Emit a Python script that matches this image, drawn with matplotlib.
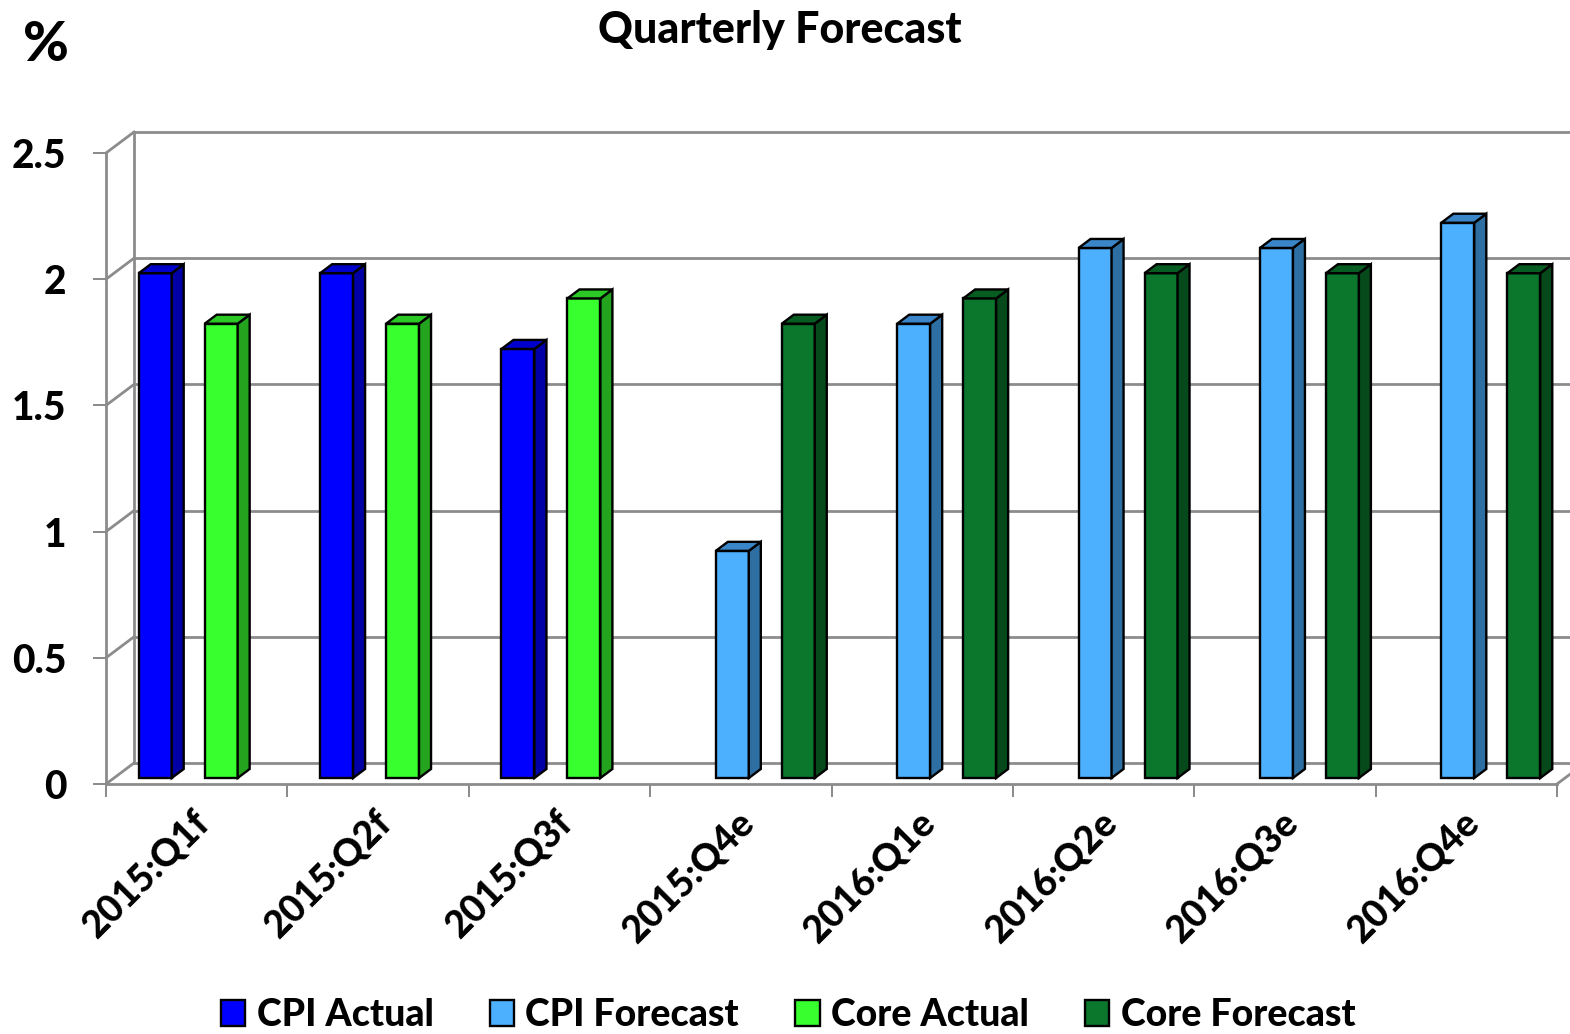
import numpy as np
import matplotlib
matplotlib.use("Agg")
import matplotlib.pyplot as plt
from matplotlib.patches import Polygon, Patch
from matplotlib.lines import Line2D
from matplotlib.transforms import ScaledTranslation, IdentityTransform

# ---------------- data ----------------
categories = ['2015:Q1f', '2015:Q2f', '2015:Q3f', '2015:Q4e',
              '2016:Q1e', '2016:Q2e', '2016:Q3e', '2016:Q4e']
nan = np.nan
cpi_actual    = [2.0, 2.0, 1.7, nan, nan, nan, nan, nan]
cpi_forecast  = [nan, nan, nan, 0.9, 1.8, 2.1, 2.1, 2.2]
core_actual   = [1.8, 1.8, 1.9, nan, nan, nan, nan, nan]
core_forecast = [nan, nan, nan, 1.8, 1.9, 2.0, 2.0, 2.0]
series_names = ['CPI Actual', 'CPI Forecast', 'Core Actual', 'Core Forecast']
yticks = [0, 0.5, 1, 1.5, 2, 2.5]
ytick_labels = ['0', '0.5', '1', '1.5', '2', '2.5']

# ---------------- style ----------------
front_colors = ['#0000FF', '#4DB0FF', '#38FF2E', '#0A772D']
side_colors  = ['#0000A6', '#2E6FA3', '#24A41E', '#064A1C']
top_colors   = ['#0000CC', '#3A86C8', '#2CC825', '#075C22']
GRID = '#8C8C8C'
FW = 'black'

plt.rcParams['font.family'] = ['Lato', 'DejaVu Sans']
plt.rcParams['font.weight'] = FW

DPI = 100
W_PX, H_PX = 1570, 1034
fig = plt.figure(figsize=(W_PX / DPI, H_PX / DPI), dpi=DPI)
fig.patch.set_facecolor('white')

x_left, x_right = 106, 1557
y_zero, y_top = 784, 153
ax = fig.add_axes([x_left / W_PX, (H_PX - y_zero) / H_PX,
                   (x_right - x_left) / W_PX, (y_zero - y_top) / H_PX])
ax.patch.set_visible(False)

def px(dx, dy):
    return ScaledTranslation(dx / DPI, dy / DPI, fig.dpi_scale_trans)

WALL_DX, WALL_DY = 28, 21
BAR_DX, BAR_DY = 8, 6
SIDE_DX, SIDE_DY = 12, 9

n_cat = len(categories)
n_ser = len(series_names)
all_series = [cpi_actual, cpi_forecast, core_actual, core_forecast]
w = 1.0 / (n_ser + 1.5)

bar_tr = ax.transData + px(BAR_DX, BAR_DY)
containers = []
for s, vals in enumerate(all_series):
    vals = np.asarray(vals, dtype=float)
    mask = ~np.isnan(vals)
    xs = np.arange(n_cat)[mask] + 0.75 * w + s * w + w / 2
    bc = ax.bar(xs, vals[mask], width=w, color=front_colors[s],
                edgecolor='black', linewidth=1.7, zorder=3)
    for r in bc:
        r.set_transform(bar_tr)
        r.set_clip_on(False)
    containers.append((s, bc))

ax.set_xlim(0, n_cat)
ax.set_ylim(0, 2.5)

# back wall gridlines
back_tr = ax.transData + px(WALL_DX, WALL_DY)
for y in yticks:
    ax.plot([0, n_cat], [y, y], color=GRID, lw=2, transform=back_tr,
            clip_on=False, zorder=1)
    p0 = ax.transData.transform((0, y))
    fig.add_artist(Line2D([p0[0], p0[0] + WALL_DX], [p0[1], p0[1] + WALL_DY],
                          color=GRID, lw=2, transform=IdentityTransform(), zorder=1))
ax.plot([0, 0], [0, 2.5], color=GRID, lw=2, transform=back_tr, clip_on=False, zorder=1)
p0 = ax.transData.transform((n_cat, 0))
fig.add_artist(Line2D([p0[0], p0[0] + WALL_DX], [p0[1], p0[1] + WALL_DY],
                      color=GRID, lw=2, transform=IdentityTransform(), zorder=1))

# 3D faces for bars
for s, bc in containers:
    for r in bc:
        x0d, y0d = r.get_x(), r.get_y()
        x1d, y1d = x0d + r.get_width(), y0d + r.get_height()
        (x0, y0), (x1, y1) = bar_tr.transform([(x0d, y0d), (x1d, y1d)])
        side = Polygon([(x1, y0), (x1 + SIDE_DX, y0 + SIDE_DY),
                        (x1 + SIDE_DX, y1 + SIDE_DY), (x1, y1)], closed=True,
                       facecolor=side_colors[s], edgecolor='black', lw=1.7,
                       transform=IdentityTransform(), zorder=4)
        top = Polygon([(x0, y1), (x0 + SIDE_DX, y1 + SIDE_DY),
                       (x1 + SIDE_DX, y1 + SIDE_DY), (x1, y1)], closed=True,
                      facecolor=top_colors[s], edgecolor='black', lw=1.7,
                      transform=IdentityTransform(), zorder=4)
        fig.add_artist(side)
        fig.add_artist(top)

# spines / ticks
for sp in ['top', 'right']:
    ax.spines[sp].set_visible(False)
for sp in ['left', 'bottom']:
    ax.spines[sp].set_color(GRID)
    ax.spines[sp].set_linewidth(2)
ax.set_yticks(yticks)
ax.set_yticklabels(ytick_labels, fontsize=28, fontweight=FW)
ax.tick_params(axis='y', direction='out', length=9.4, width=1.44, color=GRID, pad=19)
ax.set_xticks(np.arange(n_cat + 1))
ax.set_xticklabels([])
ax.tick_params(axis='x', which='major', direction='out', length=9.4, width=1.44, color=GRID)
ax.set_xticks(np.arange(n_cat) + 0.5, minor=True)
ax.set_xticklabels(categories, minor=True, rotation=45, ha='right', va='top',
                   rotation_mode='anchor', fontsize=27, fontweight=FW)
ax.tick_params(axis='x', which='minor', length=0, pad=15)
for lbl in ax.get_xticklabels(minor=True):
    lbl.set_transform(lbl.get_transform() + px(-4, 0))

# title & unit
fig.text(780 / W_PX, 1 - 30 / H_PX, 'Quarterly Forecast', ha='center', va='center',
         fontsize=31, fontweight=FW)
fig.text(46 / W_PX, 1 - 45 / H_PX, '%', ha='center', va='center',
         fontsize=40, fontweight=FW)

# legend
handles = [Patch(facecolor=front_colors[i], edgecolor='black', linewidth=1.7)
           for i in range(n_ser)]
fig.legend(handles, series_names, loc='center', bbox_to_anchor=(0.502, 0.018),
           ncol=4, frameon=False, fontsize=27, handlelength=0.65, handleheight=0.7,
           handletextpad=0.3, columnspacing=1.5, borderpad=0,
           prop={'size': 27, 'weight': FW})

fig.savefig('out.png', dpi=DPI, facecolor='white')
